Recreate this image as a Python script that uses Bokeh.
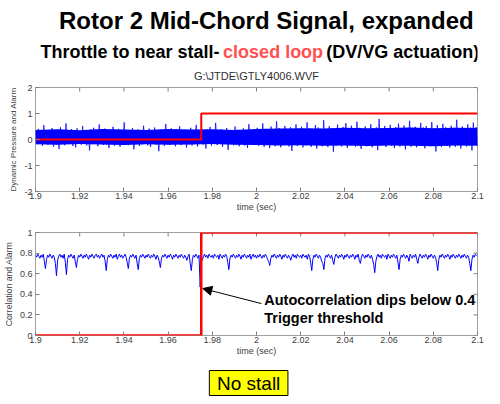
import numpy as np
from bokeh.plotting import figure
from bokeh.layouts import column
from bokeh.models import (Range1d, FixedTicker, Label, Arrow, NormalHead, BoxAnnotation)
from bokeh.embed import file_html
from bokeh.resources import INLINE

# ---------------- texts ----------------
title_text = "Rotor 2 Mid-Chord Signal, expanded"
subtitle_parts = ["Throttle to near stall-", "closed loop", "(DV/VG actuation)"]
subtitle_colors = ["black", "#ff5050", "black"]
file_label = "G:\\JTDE\\GTLY4006.WVF"
x_label = "time (sec)"
y_label_top = "Dynamic Pressure and Alarm"
y_label_bottom = "Correlation and Alarm"
note_lines = ["Autocorrelation dips below 0.4", "Trigger threshold"]
badge_text = "No stall"

# ---------------- ticks ----------------
x_ticks = [1.9, 1.92, 1.94, 1.96, 1.98, 2.0, 2.02, 2.04, 2.06, 2.08, 2.1]
x_tick_labels = ["1.9", "1.92", "1.94", "1.96", "1.98", "2", "2.02", "2.04", "2.06", "2.08", "2.1"]
y_ticks_top = [-2, -1, 0, 1, 2]
y_tick_labels_top = ["-2", "-1", "0", "1", "2"]
y_ticks_bottom = [0, 0.2, 0.4, 0.6, 0.8, 1.0]
y_tick_labels_bottom = ["0", "0.2", "0.4", "0.6", "0.8", "1"]

# ---------------- data ----------------
# dynamic pressure signal (sample by sample)
pressure = [
    0.32,-0.18,0.41,-0.12,0.28,-0.24,0.55,-0.15,0.36,-0.21,0.30,-0.08,0.44,-0.27,0.25,-0.19,0.38,-0.36,0.47,-0.14,
    0.29,-0.22,0.62,-0.17,0.34,-0.11,0.40,-0.25,0.27,-0.30,0.43,-0.16,0.31,-0.20,0.52,-0.13,0.35,-0.23,0.26,-0.42,
    0.39,-0.18,0.45,-0.09,0.33,-0.26,0.58,-0.15,0.28,-0.21,0.42,-0.19,0.37,-0.33,0.30,-0.12,0.49,-0.24,0.32,-0.17,
    0.41,-0.28,0.27,-0.14,0.66,-0.20,0.36,-0.22,0.29,-0.11,0.44,-0.38,0.33,-0.16,0.39,-0.25,0.25,-0.19,0.53,-0.13,
    0.34,-0.23,0.42,-0.29,0.30,-0.15,0.46,-0.20,0.28,-0.45,0.38,-0.12,0.35,-0.24,0.60,-0.18,0.31,-0.21,0.43,-0.10,
    0.27,-0.26,0.40,-0.17,0.51,-0.22,0.33,-0.14,0.37,-0.31,0.29,-0.19,0.45,-0.23,0.32,-0.09,0.56,-0.27,0.35,-0.16,
    0.42,-0.20,0.26,-0.35,0.39,-0.13,0.48,-0.24,0.31,-0.18,0.64,-0.21,0.34,-0.12,0.40,-0.28,0.28,-0.17,0.44,-0.40,
    0.36,-0.15,0.30,-0.22,0.50,-0.19,0.38,-0.26,0.27,-0.11,0.43,-0.23,0.33,-0.32,0.59,-0.16,0.35,-0.20,0.29,-0.14,
    0.45,-0.24,0.38,-0.17,0.62,-0.28,0.41,-0.21,0.35,-0.33,0.50,-0.19,0.39,-0.26,0.70,-0.15,0.44,-0.30,0.36,-0.22,
    0.52,-0.18,0.40,-0.27,0.47,-0.44,0.34,-0.20,0.58,-0.25,0.42,-0.16,0.49,-0.31,0.37,-0.23,0.66,-0.19,0.43,-0.28,
    0.39,-0.21,0.55,-0.35,0.46,-0.17,0.41,-0.26,0.74,-0.22,0.38,-0.29,0.51,-0.18,0.44,-0.47,0.36,-0.24,0.57,-0.20,
    0.42,-0.27,0.48,-0.15,0.63,-0.32,0.40,-0.23,0.53,-0.19,0.37,-0.28,0.68,-0.21,0.45,-0.36,0.41,-0.17,0.50,-0.26,
    0.38,-0.22,0.59,-0.30,0.44,-0.18,0.47,-0.41,0.79,-0.24,0.40,-0.20,0.52,-0.29,0.43,-0.16,0.56,-0.25,0.39,-0.33,
    0.48,-0.19,0.61,-0.27,0.42,-0.23,0.54,-0.38,0.45,-0.17,0.72,-0.28,0.41,-0.21,0.49,-0.30,0.37,-0.24,0.64,-0.18,
    0.46,-0.34,0.51,-0.22,0.40,-0.26,0.67,-0.19,0.44,-0.46,0.55,-0.23,0.39,-0.29,0.60,-0.20,0.47,-0.25,0.42,-0.31,
    0.53,-0.17,0.45,-0.28,0.76,-0.22,0.41,-0.35,0.50,-0.19,0.43,-0.27,0.58,-0.24,0.46,-0.42,0.65,-0.21,0.48,-0.26,
]

# dense core of the pressure trace (solid part of the band), every 0.01 s
core_t = [1.90, 1.91, 1.92, 1.93, 1.94, 1.95, 1.96, 1.97, 1.98, 1.99, 2.00,
          2.01, 2.02, 2.03, 2.04, 2.05, 2.06, 2.07, 2.08, 2.09, 2.10]
core_hi = [0.37, 0.39, 0.36, 0.40, 0.38, 0.37, 0.40, 0.38, 0.39, 0.37, 0.40,
           0.42, 0.43, 0.42, 0.45, 0.43, 0.44, 0.46, 0.43, 0.45, 0.44]
core_lo = [-0.18, -0.20, -0.17, -0.19, -0.21, -0.18, -0.20, -0.19, -0.17, -0.20, -0.21,
           -0.23, -0.22, -0.24, -0.23, -0.25, -0.23, -0.24, -0.26, -0.23, -0.24]

# autocorrelation signal, one sample every 0.5 ms (20 samples per row)
correlation = [
    0.78,0.76,0.79,0.77,0.75,0.78,0.76,0.79,0.72,0.65,0.74,0.78,0.76,0.79,0.77,0.75,0.78,0.76,0.70,0.58,
    0.73,0.77,0.79,0.76,0.78,0.75,0.79,0.71,0.59,0.74,0.78,0.76,0.79,0.77,0.75,0.78,0.72,0.66,0.74,0.78,
    0.76,0.79,0.77,0.75,0.78,0.76,0.79,0.77,0.74,0.78,0.76,0.79,0.77,0.75,0.78,0.79,0.76,0.78,0.75,0.77,
    0.79,0.76,0.78,0.72,0.63,0.74,0.78,0.76,0.79,0.77,0.75,0.78,0.76,0.79,0.74,0.77,0.79,0.76,0.78,0.75,
    0.77,0.79,0.76,0.71,0.65,0.75,0.78,0.76,0.79,0.77,0.75,0.78,0.70,0.64,0.75,0.78,0.76,0.79,0.77,0.75,
    0.78,0.76,0.79,0.77,0.75,0.78,0.76,0.79,0.77,0.74,0.78,0.76,0.72,0.66,0.75,0.78,0.76,0.79,0.77,0.75,
    0.78,0.76,0.79,0.77,0.74,0.78,0.76,0.79,0.77,0.75,0.78,0.76,0.79,0.77,0.75,0.78,0.76,0.73,0.77,0.79,
    0.70,0.63,0.74,0.78,0.76,0.79,0.77,0.75,0.78,0.47,0.72,0.73,0.77,0.79,0.76,0.78,0.75,0.79,0.77,0.76,
    0.78,0.75,0.79,0.77,0.76,0.78,0.74,0.79,0.77,0.75,0.78,0.76,0.79,0.77,0.71,0.64,0.75,0.78,0.76,0.79,
    0.77,0.75,0.78,0.76,0.79,0.77,0.74,0.78,0.76,0.79,0.77,0.75,0.78,0.76,0.79,0.74,0.77,0.79,0.76,0.78,
    0.75,0.78,0.76,0.79,0.77,0.75,0.78,0.76,0.79,0.77,0.74,0.72,0.68,0.75,0.78,0.76,0.79,0.77,0.75,0.78,
    0.76,0.79,0.77,0.74,0.78,0.76,0.79,0.77,0.75,0.78,0.76,0.73,0.77,0.79,0.76,0.78,0.75,0.79,0.77,0.76,
    0.78,0.75,0.79,0.77,0.76,0.78,0.74,0.79,0.77,0.71,0.63,0.74,0.78,0.76,0.79,0.77,0.75,0.78,0.76,0.72,
    0.70,0.64,0.75,0.78,0.76,0.79,0.77,0.75,0.78,0.73,0.69,0.76,0.79,0.77,0.75,0.78,0.76,0.79,0.77,0.74,
    0.78,0.76,0.79,0.77,0.75,0.78,0.76,0.79,0.77,0.74,0.78,0.76,0.79,0.73,0.70,0.76,0.79,0.77,0.75,0.78,
    0.76,0.79,0.77,0.75,0.78,0.74,0.69,0.61,0.72,0.77,0.79,0.76,0.78,0.75,0.79,0.77,0.76,0.78,0.74,0.79,
    0.77,0.75,0.78,0.76,0.79,0.77,0.75,0.78,0.71,0.64,0.74,0.78,0.76,0.79,0.77,0.75,0.78,0.76,0.72,0.79,
    0.77,0.75,0.78,0.76,0.79,0.74,0.70,0.76,0.79,0.77,0.75,0.78,0.76,0.79,0.77,0.74,0.78,0.76,0.79,0.77,
    0.75,0.78,0.76,0.71,0.63,0.74,0.78,0.76,0.79,0.77,0.75,0.78,0.76,0.79,0.77,0.74,0.78,0.76,0.79,0.77,
    0.75,0.78,0.76,0.79,0.77,0.75,0.78,0.76,0.79,0.77,0.75,0.78,0.76,0.70,0.63,0.74,0.78,0.76,0.79,0.78,
    0.77,
]

# alarm (step) signal
alarm_t = [1.9, 1.975, 2.1]
alarm = [0, 1, 1]

t_start, t_end = 1.9, 2.1
t_pressure = np.linspace(t_start, t_end, len(pressure))
t_corr = np.linspace(t_start, t_end, len(correlation))

FONT = "Liberation Sans"
W = 484
BL, BR = 27, 7          # left / right borders -> frame spans page x 35..485
FRAME_W = W - BL - BR
TICK = 4


def style_axis(ax, overrides, standoff=1):
    ax.major_tick_in = TICK
    ax.major_tick_out = 0
    ax.minor_tick_in = 0
    ax.minor_tick_out = 0
    ax.axis_line_color = None
    ax.major_tick_line_color = "#808080"
    ax.major_label_text_font = FONT
    ax.major_label_text_font_size = "9px"
    ax.major_label_text_color = "#404040"
    ax.major_label_standoff = standoff
    ax.major_label_overrides = overrides


def make_plot(height, top, bottom, yr, yticks, ylabels, ylabel, ylabel_size):
    p = figure(width=W, height=height, x_range=Range1d(t_start, t_end),
               y_range=Range1d(*yr), output_backend="svg", toolbar_location=None,
               min_border_left=BL, min_border_right=BR, min_border_top=top,
               min_border_bottom=bottom)
    p.grid.visible = False
    p.outline_line_color = "#a0a0a0"
    p.outline_line_width = 1
    p.xaxis.ticker = FixedTicker(ticks=x_ticks)
    p.yaxis.ticker = FixedTicker(ticks=yticks)
    for ax in p.xaxis:
        style_axis(ax, dict(zip(x_ticks, x_tick_labels)))
        ax.axis_label = x_label
        ax.axis_label_text_font = FONT
        ax.axis_label_text_font_size = "9px"
        ax.axis_label_text_font_style = "normal"
        ax.axis_label_text_color = "#404040"
        ax.axis_label_standoff = 0
    for ax in p.yaxis:
        style_axis(ax, dict(zip(yticks, ylabels)), standoff=3)
        ax.axis_label = ylabel
        ax.axis_label_text_font = FONT
        ax.axis_label_text_font_size = ylabel_size
        ax.axis_label_text_font_style = "normal"
        ax.axis_label_text_color = "#404040"
        ax.axis_label_standoff = 3
    # mirrored inward ticks on the top and right edges of the box
    frame_h = height - top - bottom
    dy = (yr[1] - yr[0]) * TICK / frame_h
    dx = (t_end - t_start) * TICK / FRAME_W
    p.segment(x0=x_ticks, y0=[yr[1]] * len(x_ticks), x1=x_ticks,
              y1=[yr[1] - dy] * len(x_ticks), line_color="#808080", line_width=1)
    p.segment(x0=[t_end] * len(yticks), y0=yticks, x1=[t_end - dx] * len(yticks),
              y1=yticks, line_color="#808080", line_width=1)
    return p


def text_panel(height, y0, y1):
    f = figure(width=W, height=height, x_range=Range1d(BL + 8, W + 8 - BR),
               y_range=Range1d(y1, y0), output_backend="svg", toolbar_location=None,
               x_axis_type=None, y_axis_type=None, min_border_left=BL,
               min_border_right=BR, min_border_top=0, min_border_bottom=0)
    f.outline_line_color = None
    return f


def mid_label(x, y, text, size, align="center", bold=False, color="black"):
    return Label(x=x, y=y, text=text, text_align=align, text_baseline="middle",
                 text_font=FONT, text_font_style="bold" if bold else "normal",
                 text_font_size=size, text_color=color)


# ---------------- header (page y 0..82) ----------------
header = text_panel(82, 0, 82)
header.add_layout(mid_label(270, 20, title_text, "24px", bold=True))
sub_x = [40, 226, 331]
for sx, part, col in zip(sub_x, subtitle_parts, subtitle_colors):
    header.add_layout(mid_label(sx, 51.5, part, "18px", align="left", bold=True, color=col))
header.add_layout(mid_label(260, 75, file_label, "11px", color="#303030"))

# ---------------- top plot (page y 82..220) ----------------
p1 = make_plot(138, 5, 29, (-2, 2), y_ticks_top, y_tick_labels_top, y_label_top, "8px")
p1.varea(x=core_t, y1=core_lo, y2=core_hi, fill_color="#0000ff", fill_alpha=1)
p1.line(t_pressure, pressure, line_color="#0000ff", line_width=1, line_alpha=0.75)
p1.step(alarm_t, alarm, mode="after", line_color="#ff0000", line_width=2)

# ---------------- bottom plot (page y 220..358) ----------------
p2 = make_plot(138, 12, 23, (0, 1), y_ticks_bottom, y_tick_labels_bottom, y_label_bottom, "8.7px")
p2.line(t_corr, correlation, line_color="#0000ff", line_width=1)
p2.step(alarm_t, alarm, mode="after", line_color="#ff0000", line_width=2.5)
p2.add_layout(Arrow(end=NormalHead(size=9, fill_color="black", line_color="black"),
                    x_start=2.0022, y_start=0.31, x_end=1.9757, y_end=0.456,
                    line_color="black", line_width=1))
for yy, txt in zip([0.340, 0.168], note_lines):
    p2.add_layout(mid_label(2.0035, yy, txt, "14.5px", align="left", bold=True))

# ---------------- footer (page y 358..396) ----------------
footer = text_panel(38, 358, 396)
footer.add_layout(BoxAnnotation(left=212, right=292, top=370, bottom=395,
                                fill_color="#ffff00", fill_alpha=1,
                                line_color="black", line_width=1, line_alpha=1))
footer.add_layout(mid_label(252, 383, badge_text, "19px"))

layout = column(header, p1, p2, footer, spacing=0)
open("out.html", "w").write(file_html(layout, INLINE))
